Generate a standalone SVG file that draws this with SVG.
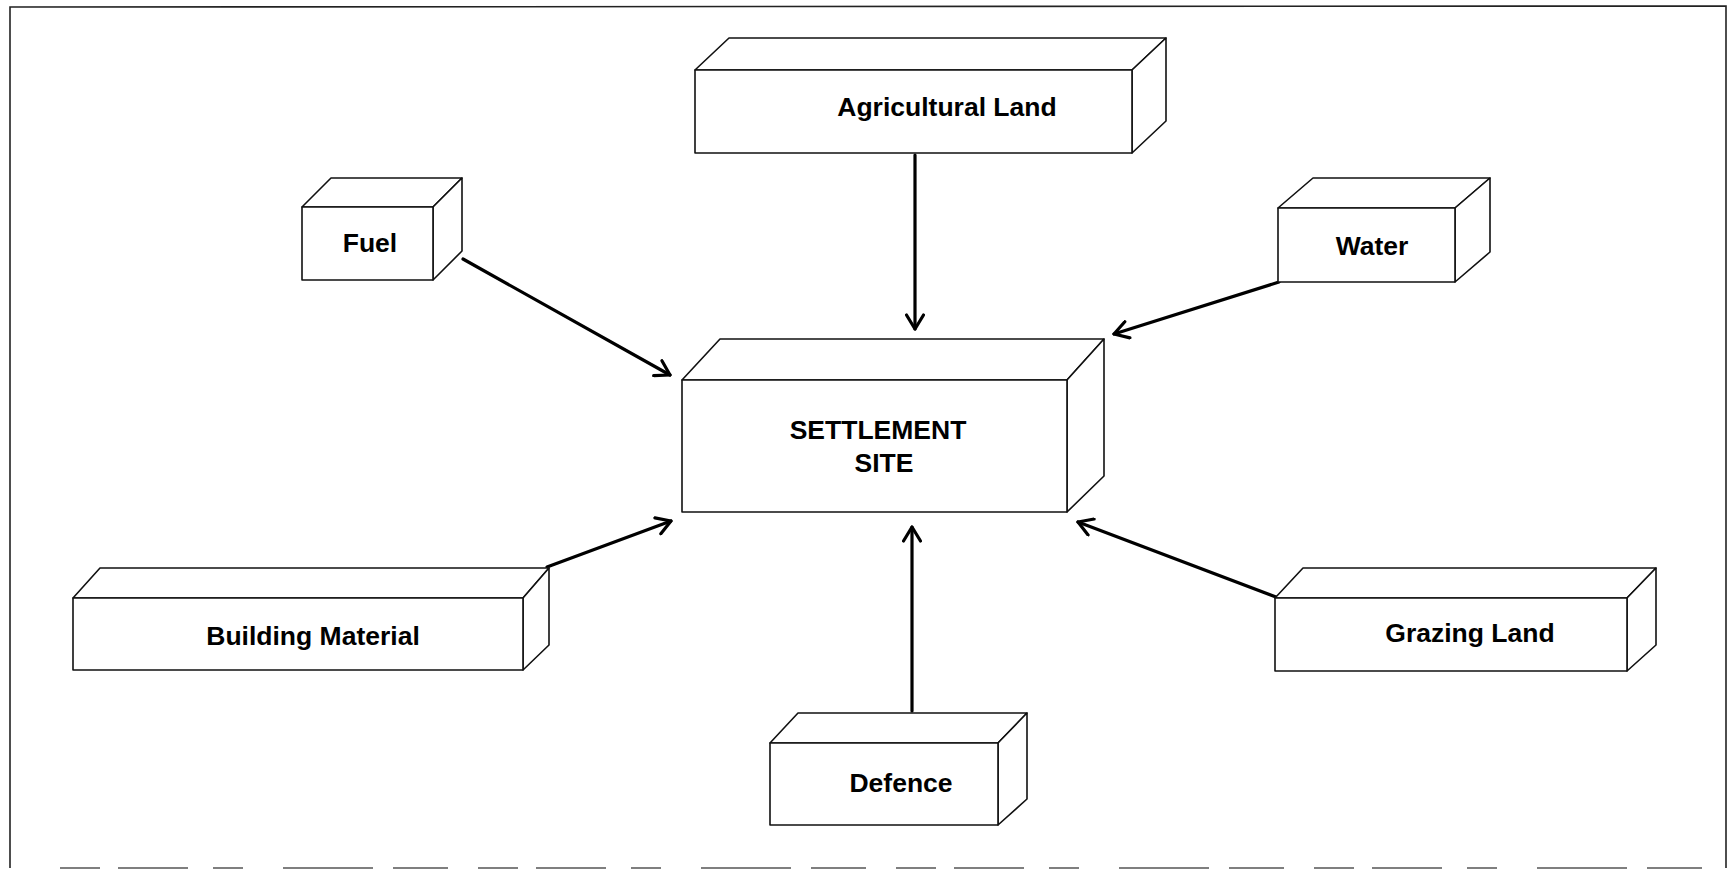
<svg xmlns="http://www.w3.org/2000/svg" width="1733" height="871" viewBox="0 0 1733 871">
  <style>
    .face { fill: #ffffff; stroke: #111111; stroke-width: 1.6; stroke-linejoin: round; }
    .label { font-family: "Liberation Sans", Arial, sans-serif; font-weight: bold; font-size: 26.5px; fill: #000000; text-anchor: middle; }
    .link { fill: none; stroke: #000000; stroke-width: 3.2; stroke-linecap: round; }
    .frame { fill: none; stroke: #222222; stroke-width: 1.6; }
  </style>
  <defs>
    <!-- open chevron arrowhead -->
    <marker id="head" viewBox="0 0 20 20" refX="17" refY="10" markerWidth="20" markerHeight="20" markerUnits="userSpaceOnUse" orient="auto">
      <path d="M3,1.5 L17,10 L3,18.5" fill="none" stroke="#000000" stroke-width="3.2" stroke-linecap="round" stroke-linejoin="round"/>
    </marker>
  </defs>

  <rect width="1733" height="871" fill="#ffffff"/>

  <!-- outer frame -->
  <path class="frame" d="M10,868 L10,7 L1726,6 L1726,868"/>
  <path d="M60,868 L1726,868" fill="none" stroke="#555555" stroke-width="1.5" stroke-dasharray="40 18 70 25 30 40 90 20 55 30"/>

  <!-- connectors -->
  <g id="connectors">
    <line class="link" x1="915" y1="155" x2="915" y2="329" marker-end="url(#head)"/>
    <line class="link" x1="463" y1="259" x2="670" y2="375" marker-end="url(#head)"/>
    <line class="link" x1="1279" y1="282" x2="1114" y2="334" marker-end="url(#head)"/>
    <line class="link" x1="547" y1="567" x2="671" y2="521" marker-end="url(#head)"/>
    <line class="link" x1="1276" y1="597" x2="1078" y2="522" marker-end="url(#head)"/>
    <line class="link" x1="912" y1="711" x2="912" y2="527" marker-end="url(#head)"/>
  </g>

  <!-- Agricultural Land -->
  <g id="agricultural-land">
    <path class="face" d="M695,70 L729,38 L1166,38 L1132,70 Z"/>
    <path class="face" d="M1132,70 L1166,38 L1166,121 L1132,153 Z"/>
    <rect class="face" x="695" y="70" width="437" height="83"/>
    <text class="label" x="947" y="116">Agricultural Land</text>
  </g>

  <!-- Fuel -->
  <g id="fuel">
    <path class="face" d="M302,207 L331,178 L462,178 L433,207 Z"/>
    <path class="face" d="M433,207 L462,178 L462,251 L433,280 Z"/>
    <rect class="face" x="302" y="207" width="131" height="73"/>
    <text class="label" x="370" y="252">Fuel</text>
  </g>

  <!-- Water -->
  <g id="water">
    <path class="face" d="M1278,208 L1313,178 L1490,178 L1455,208 Z"/>
    <path class="face" d="M1455,208 L1490,178 L1490,252 L1455,282 Z"/>
    <rect class="face" x="1278" y="208" width="177" height="74"/>
    <text class="label" x="1372" y="255">Water</text>
  </g>

  <!-- Settlement Site -->
  <g id="settlement-site">
    <path class="face" d="M682,380 L720,339 L1104,339 L1067,380 Z"/>
    <path class="face" d="M1067,380 L1104,339 L1104,476 L1067,512 Z"/>
    <rect class="face" x="682" y="380" width="385" height="132"/>
    <text class="label" x="878" y="439">SETTLEMENT</text>
    <text class="label" x="884" y="472">SITE</text>
  </g>

  <!-- Building Material -->
  <g id="building-material">
    <path class="face" d="M73,598 L100,568 L549,568 L523,598 Z"/>
    <path class="face" d="M523,598 L549,568 L549,645 L523,670 Z"/>
    <rect class="face" x="73" y="598" width="450" height="72"/>
    <text class="label" x="313" y="645">Building Material</text>
  </g>

  <!-- Grazing Land -->
  <g id="grazing-land">
    <path class="face" d="M1275,598 L1303,568 L1656,568 L1627,598 Z"/>
    <path class="face" d="M1627,598 L1656,568 L1656,645 L1627,671 Z"/>
    <rect class="face" x="1275" y="598" width="352" height="73"/>
    <text class="label" x="1470" y="642">Grazing Land</text>
  </g>

  <!-- Defence -->
  <g id="defence">
    <path class="face" d="M770,743 L798,713 L1027,713 L998,743 Z"/>
    <path class="face" d="M998,743 L1027,713 L1027,799 L998,825 Z"/>
    <rect class="face" x="770" y="743" width="228" height="82"/>
    <text class="label" x="901" y="792">Defence</text>
  </g>
</svg>
